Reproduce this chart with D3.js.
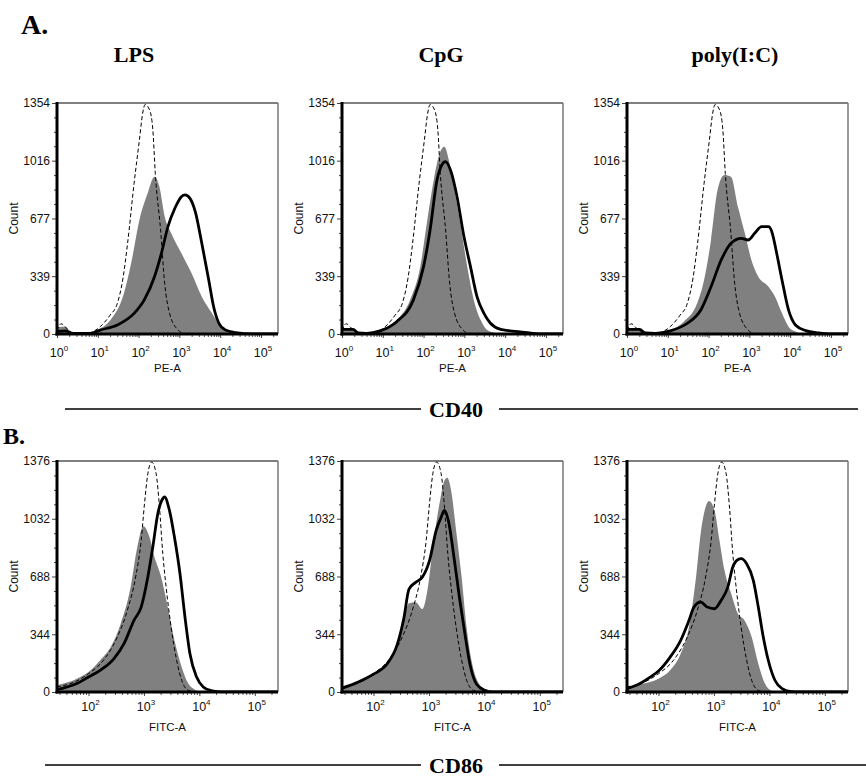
<!DOCTYPE html>
<html><head><meta charset="utf-8">
<script src="https://cdn.jsdelivr.net/npm/d3@7"></script>
<style>body{margin:0;background:#fff} svg{display:block}</style>
</head><body><svg id="c" width="866" height="780"></svg>
<script>
const treatments = ["LPS", "CpG", "poly(I:C)"];
const cd40YTicks = [0, 339, 677, 1016, 1354];
const cd86YTicks = [0, 344, 688, 1032, 1376];
const cd40XTickExps = [0, 1, 2, 3, 4, 5];
const cd86XTickExps = [2, 3, 4, 5];
const cd40XLabel = "PE-A";
const cd86XLabel = "FITC-A";

// points: [log10(fluorescence), count]
const cd40Isotype = [[0,20],[0.1,60],[0.25,30],[0.4,5],[0.7,3],[1.06,43],[1.3,110],[1.48,180],[1.62,330],[1.73,530],[1.89,883],[2.02,1137],[2.10,1293],[2.16,1345],[2.27,1313],[2.35,1196],[2.41,942],[2.54,610],[2.64,297],[2.76,121],[2.97,23],[3.1,4],[3.3,0],[5.42,0]];
const cd40FilledLPS = [[0,40],[0.2,42],[0.35,10],[0.6,3],[0.98,23],[1.31,82],[1.64,238],[1.85,453],[2.02,668],[2.22,824],[2.39,922],[2.51,864],[2.64,688],[2.80,590],[3.05,473],[3.30,356],[3.55,219],[3.80,121],[4.01,43],[4.13,14],[4.3,0],[5.42,0]];
const cd40LineLPS = [[0,15],[0.2,18],[0.4,3],[0.8,3],[1.06,23],[1.48,53],[1.89,121],[2.14,200],[2.39,336],[2.56,473],[2.72,629],[2.89,737],[3.05,805],[3.14,815],[3.26,795],[3.39,717],[3.55,532],[3.72,317],[3.84,160],[3.97,63],[4.13,23],[4.38,8],[4.8,0],[5.42,0]];
const cd40FilledCpG = [[0,33],[0.27,33],[0.4,8],[0.6,4],[0.93,23],[1.34,82],[1.67,200],[1.92,395],[2.08,649],[2.25,903],[2.41,1069],[2.51,1098],[2.62,1020],[2.74,864],[2.90,649],[3.07,395],[3.23,200],[3.40,82],[3.56,23],[3.73,8],[4.0,0],[5.42,0]];
const cd40LineCpG = [[0,27],[0.27,27],[0.4,6],[0.6,4],[0.93,18],[1.34,72],[1.75,200],[2.0,395],[2.16,610],[2.33,903],[2.45,991],[2.53,1010],[2.66,961],[2.82,805],[2.99,571],[3.15,395],[3.31,219],[3.48,121],[3.64,63],[3.89,27],[4.30,14],[4.6,6],[5.0,0],[5.42,0]];
const cd40FilledPolyIC = [[0,33],[0.23,33],[0.4,8],[0.6,4],[0.98,18],[1.39,72],[1.72,180],[1.89,317],[2.06,551],[2.22,844],[2.39,932],[2.55,922],[2.72,746],[2.89,590],[3.05,434],[3.22,336],[3.47,277],[3.63,219],[3.80,121],[3.96,43],[4.13,14],[4.3,0],[5.42,0]];
const cd40LinePolyIC = [[0,27],[0.31,27],[0.45,6],[0.7,4],[1.06,18],[1.48,63],[1.81,141],[2.06,277],[2.31,434],[2.55,532],[2.80,561],[2.97,551],[3.13,590],[3.30,629],[3.47,629],[3.55,600],[3.67,473],[3.80,317],[3.96,141],[4.13,53],[4.38,20],[4.7,6],[5.0,0],[5.42,0]];

const cd86Isotype = [[1.43,30],[1.75,60],[2.0,109],[2.27,189],[2.52,328],[2.70,486],[2.85,685],[2.95,903],[3.01,1122],[3.07,1300],[3.14,1370],[3.22,1300],[3.28,1102],[3.34,824],[3.40,625],[3.49,387],[3.59,189],[3.68,70],[3.80,10],[3.95,0],[5.42,0]];
const cd86FilledLPS = [[1.43,40],[1.79,79],[2.0,119],[2.21,189],[2.40,268],[2.58,407],[2.76,625],[2.88,864],[2.99,987],[3.10,923],[3.19,804],[3.31,685],[3.43,506],[3.55,308],[3.68,149],[3.80,50],[3.92,14],[4.05,0],[5.42,0]];
const cd86LineLPS = [[1.43,14],[1.79,50],[2.0,89],[2.21,129],[2.46,199],[2.64,288],[2.82,427],[2.95,506],[3.07,685],[3.16,864],[3.25,1062],[3.34,1152],[3.37,1162],[3.46,1082],[3.55,923],[3.65,705],[3.74,447],[3.83,228],[3.95,89],[4.07,30],[4.23,6],[4.4,0],[5.42,0]];
const cd86FilledCpG = [[1.43,26],[1.70,56],[2.0,96],[2.18,145],[2.37,245],[2.52,384],[2.64,528],[2.76,534],[2.88,494],[2.98,623],[3.07,862],[3.19,1121],[3.28,1260],[3.33,1276],[3.40,1200],[3.49,962],[3.59,683],[3.68,384],[3.77,185],[3.89,56],[4.01,16],[4.15,0],[5.42,0]];
const cd86LineCpG = [[1.43,22],[1.70,56],[2.0,106],[2.24,165],[2.43,285],[2.55,444],[2.64,613],[2.76,653],[2.88,683],[3.01,782],[3.13,962],[3.22,1041],[3.28,1081],[3.35,1021],[3.46,782],[3.55,563],[3.65,344],[3.74,165],[3.86,46],[4.01,10],[4.15,0],[5.42,0]];
const cd86FilledPolyIC = [[1.43,30],[1.73,50],[2.0,79],[2.21,129],[2.40,228],[2.55,387],[2.67,665],[2.76,943],[2.85,1102],[2.91,1138],[3.01,1082],[3.10,903],[3.19,725],[3.31,586],[3.43,467],[3.55,427],[3.68,328],[3.80,169],[3.92,50],[4.04,8],[4.2,0],[5.42,0]];
const cd86LinePolyIC = [[1.43,20],[1.60,40],[1.85,89],[2.0,125],[2.21,208],[2.40,308],[2.55,427],[2.64,506],[2.76,536],[2.88,506],[3.01,496],[3.13,546],[3.25,625],[3.34,745],[3.43,788],[3.49,794],[3.59,764],[3.71,665],[3.80,506],[3.89,328],[3.98,189],[4.10,70],[4.23,20],[4.4,2],[4.6,0],[5.42,0]];

const cd40Filled = [cd40FilledLPS, cd40FilledCpG, cd40FilledPolyIC];
const cd40Lines = [cd40LineLPS, cd40LineCpG, cd40LinePolyIC];
const cd86Filled = [cd86FilledLPS, cd86FilledCpG, cd86FilledPolyIC];
const cd86Lines = [cd86LineLPS, cd86LineCpG, cd86LinePolyIC];

const svg = d3.select("#c");
const sans = "'Liberation Sans', Arial, sans-serif";
const serif = "'Liberation Serif', 'Times New Roman', serif";

const panelLeft = [57, 342, 627];
const panelW = 221, panelH = 231;

const rows = [
  {top: 103, xMin: 1, yMax: 1354, yTicks: cd40YTicks, xExps: cd40XTickExps, label: cd40XLabel,
   iso: cd40Isotype, filled: cd40Filled, lines: cd40Lines, tickY: 357, labelY: 372},
  {top: 461, xMin: 27, yMax: 1376, yTicks: cd86YTicks, xExps: cd86XTickExps, label: cd86XLabel,
   iso: cd86Isotype, filled: cd86Filled, lines: cd86Lines, tickY: 711, labelY: 731}
];

rows.forEach((row, ri) => {
  panelLeft.forEach((left, ci) => {
    const g = svg.append("g").attr("transform", `translate(${left},${row.top})`);
    const x = d3.scaleLog().domain([row.xMin, 262144]).range([0, panelW]);
    const y = d3.scaleLinear().domain([0, row.yMax]).range([panelH, 0]);
    const px = d => x(Math.pow(10, d[0]));
    const clipId = `clip${ri}${ci}`;
    g.append("clipPath").attr("id", clipId).append("rect")
      .attr("x", 0).attr("y", -2).attr("width", panelW).attr("height", panelH + 2);
    const plot = g.append("g").attr("clip-path", `url(#${clipId})`);

    const area = d3.area().x(px).y0(y(0)).y1(d => y(d[1])).curve(d3.curveMonotoneX);
    const line = d3.line().x(px).y(d => y(d[1])).curve(d3.curveMonotoneX);

    plot.append("path").datum(row.filled[ci]).attr("d", area).attr("fill", "#808080");
    plot.append("path").datum(row.iso).attr("d", line).attr("fill", "none")
      .attr("stroke", "#000").attr("stroke-width", 1).attr("stroke-dasharray", "4,2.5");
    plot.append("path").datum(row.lines[ci]).attr("d", line).attr("fill", "none")
      .attr("stroke", "#000").attr("stroke-width", 2.8).attr("stroke-linejoin", "round");

    // frame: top and right thin
    g.append("line").attr("x1", 0).attr("x2", panelW).attr("y1", 0).attr("y2", 0)
      .attr("stroke", "#000").attr("stroke-width", 1);
    g.append("line").attr("x1", panelW).attr("x2", panelW).attr("y1", 0).attr("y2", panelH)
      .attr("stroke", "#777").attr("stroke-width", 1.5);

    // y axis
    const minorY = [];
    for (let i = 0; i < row.yTicks.length - 1; i++) {
      const a = row.yTicks[i], b = row.yTicks[i + 1];
      for (let k = 1; k < 4; k++) minorY.push(a + (b - a) * k / 4);
    }
    const yMinor = g.append("g").call(d3.axisLeft(y).tickValues(minorY).tickSize(3).tickFormat(""));
    yMinor.select(".domain").remove();
    yMinor.selectAll(".tick line").attr("stroke", "#444");
    const yAx = g.append("g").call(d3.axisLeft(y).tickValues(row.yTicks).tickSize(5).tickPadding(2)
      .tickFormat(d3.format("d")));
    yAx.select(".domain").remove();
    yAx.selectAll(".tick line").attr("stroke", "#444");
    yAx.selectAll(".tick text").attr("font-family", sans).attr("font-size", 12).attr("fill", "#111");
    g.append("line").attr("x1", 0).attr("x2", 0).attr("y1", -1).attr("y2", panelH + 1.5)
      .attr("stroke", "#000").attr("stroke-width", 3);

    // x axis
    const majors = row.xExps.map(e => Math.pow(10, e));
    const minors = [];
    for (let e = 0; e < 6; e++) for (let m = 2; m < 10; m++) {
      const v = m * Math.pow(10, e);
      if (v > row.xMin && v < 262144) minors.push(v);
    }
    const xg = g.append("g").attr("transform", `translate(0,${panelH})`);
    const xMinorAx = xg.append("g").call(d3.axisBottom(x).tickValues(minors).tickSize(3).tickFormat(""));
    xMinorAx.select(".domain").remove();
    xMinorAx.selectAll(".tick line").attr("stroke", "#555");
    const xMajorAx = xg.append("g").call(d3.axisBottom(x).tickValues(majors).tickSize(4).tickFormat(""));
    xMajorAx.select(".domain").remove();
    xMajorAx.selectAll(".tick line").attr("stroke", "#444");
    g.append("line").attr("x1", -1.5).attr("x2", panelW).attr("y1", panelH).attr("y2", panelH)
      .attr("stroke", "#000").attr("stroke-width", 3);

    row.xExps.forEach(e => {
      const t = svg.append("text").attr("x", left + x(Math.pow(10, e)) + 2).attr("y", row.tickY)
        .attr("text-anchor", "middle").attr("font-family", sans).attr("font-size", 12.5).attr("fill", "#111");
      t.append("tspan").text("10");
      t.append("tspan").attr("dy", -6).attr("font-size", 8).text(e);
    });

    svg.append("text").attr("x", left + panelW / 2).attr("y", row.labelY)
      .attr("text-anchor", "middle").attr("font-family", sans).attr("font-size", 11.5).attr("fill", "#111")
      .text(row.label);

    svg.append("text").attr("transform", `translate(${left - 39},${row.top + panelH / 2}) rotate(-90)`)
      .attr("text-anchor", "middle").attr("font-family", sans).attr("font-size", 12).attr("fill", "#111")
      .text("Count");
  });
});

// Titles
svg.append("text").attr("x", 21).attr("y", 34).attr("font-family", serif).attr("font-weight", "bold")
  .attr("font-size", 28).text("A.");
svg.append("text").attr("x", 3).attr("y", 444).attr("font-family", serif).attr("font-weight", "bold")
  .attr("font-size", 24).text("B.");
const titleX = [134, 441, 735];
treatments.forEach((t, i) => {
  svg.append("text").attr("x", titleX[i]).attr("y", 62).attr("text-anchor", "middle")
    .attr("font-family", serif).attr("font-weight", "bold").attr("font-size", 22).text(t);
});

function markerLabel(text, y, x1, x2) {
  svg.append("text").attr("x", 456).attr("y", y + 8).attr("text-anchor", "middle")
    .attr("font-family", serif).attr("font-weight", "bold").attr("font-size", 22).text(text);
  svg.append("line").attr("x1", x1).attr("x2", 421).attr("y1", y).attr("y2", y)
    .attr("stroke", "#000").attr("stroke-width", 1.5);
  svg.append("line").attr("x1", 499).attr("x2", x2).attr("y1", y).attr("y2", y)
    .attr("stroke", "#000").attr("stroke-width", 1.5);
}
markerLabel("CD40", 409, 65, 858);
markerLabel("CD86", 765, 45, 866);
</script></body></html>
